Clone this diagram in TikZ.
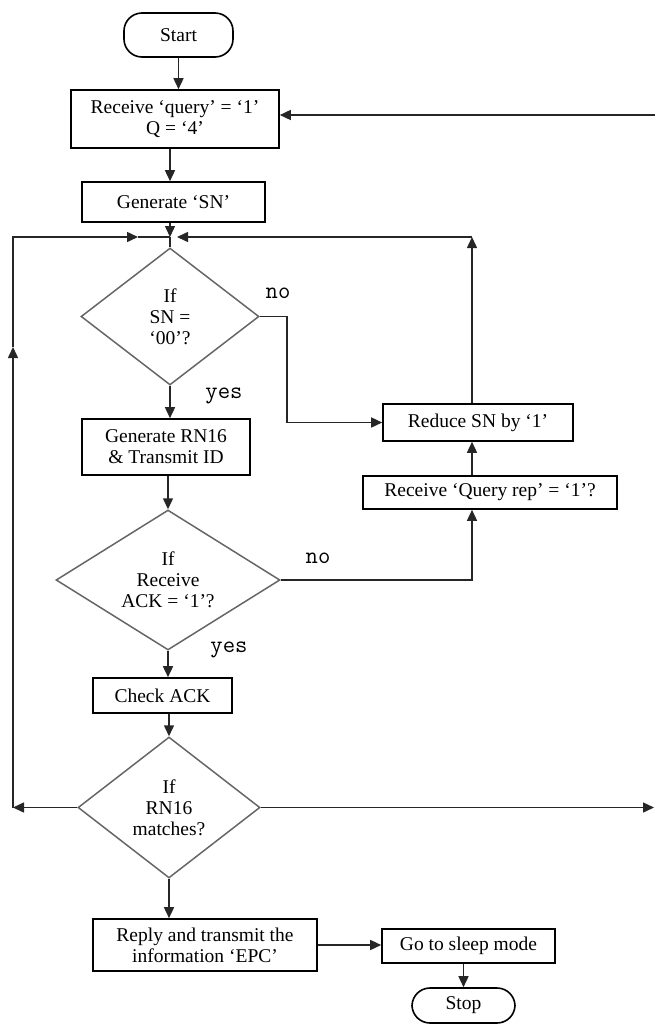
\documentclass[tikz,border=0pt]{standalone}
\usepackage{fontspec}
\setmainfont{Liberation Serif}
\usetikzlibrary{shapes.geometric,arrows.meta}
\tikzset{
  txt/.style={font=\fontsize{19.5}{21}\selectfont},
  box/.style={draw=black, line width=1.6pt, rectangle, inner sep=0pt, align=center, txt},
  term/.style={box, rounded corners=18pt},
  dec/.style={draw=black!60, line width=1.5pt, diamond, inner sep=0pt, align=center, txt},
  ln/.style={draw=black!85, line width=1.5pt},
  arr/.style={ln, -{Triangle[length=11pt,width=10pt]}},
  lbl/.style={font=\ttfamily\fontsize{24}{26}\selectfont, inner sep=0pt},
}
\begin{document}
\begin{tikzpicture}[x=1pt,y=-1pt]
\useasboundingbox (0,0) rectangle (655,1026);
% nodes
\node[term, minimum width=109pt, minimum height=44pt] (start) at (178.5,35) {Start};
\node[box, minimum width=208pt, minimum height=58pt] (rcv) at (175,119) {Receive ‘query’ = ‘1’\\Q = ‘4’};
\node[box, minimum width=183pt, minimum height=40pt] (gsn) at (173.5,202) {Generate ‘SN’};
\node[dec, minimum width=178pt, minimum height=137pt, aspect=1.3] (d1) at (170,316.5) {If\\SN =\\‘00’?};
\node[box, minimum width=168pt, minimum height=56pt] (grn) at (166,447) {Generate RN16\\\& Transmit ID};
\node[box, minimum width=190pt, minimum height=37pt] (red) at (478,422.5) {Reduce SN by ‘1’};
\node[box, minimum width=254pt, minimum height=33pt] (qr) at (490,492.5) {Receive ‘Query rep’ = ‘1’?};
\node[dec, minimum width=224pt, minimum height=140pt, aspect=1.6] (d2) at (168,580) {If\\Receive\\ACK = ‘1’?};
\node[box, minimum width=139pt, minimum height=35pt] (chk) at (162.5,695.5) {Check ACK};
\node[dec, minimum width=182pt, minimum height=141pt, aspect=1.29] (d3) at (169,807.5) {If\\RN16\\matches?};
\node[box, minimum width=224pt, minimum height=52pt] (rep) at (205,945) {Reply and transmit the\\information ‘EPC’};
\node[box, minimum width=173pt, minimum height=34pt] (slp) at (468.5,946) {Go to sleep mode};
\node[term, minimum width=103pt, minimum height=35pt] (stop) at (463.5,1005.5) {Stop};
% helper coordinates
\coordinate (j) at (170,237);
\coordinate (jr) at (177,237);
\coordinate (ql) at (138,237);
\coordinate (lc) at (13,237);
\coordinate (lm) at (13,347);
\coordinate (ll) at (13,807.5);
\coordinate (rtop) at (655,115);
\coordinate (rr) at (654,807.5);
\coordinate (colR) at (472,0);
% connectors
\draw[arr] (start.south) -- (start.south |- rcv.north);
\draw[arr] (rcv.south -| j) -- (gsn.north -| j);
\draw[arr] (gsn.south -| j) -- (j);
\draw[ln] (j) -- (d1.north);
\draw[arr] (rtop) -- (rcv.east |- rtop);
\draw[arr] (d1.east) -- ++(27,0) |- (red.west);
\draw[arr] (d1.south) -- (grn.north -| d1.south);
\draw[arr] (grn.south -| d2.north) -- (d2.north);
\draw[arr] (d2.east) -| (qr.south -| colR);
\draw[arr] (qr.north -| colR) -- (red.south -| colR);
\draw[arr] (red.north -| colR) -- (j -| colR);
\draw[arr] (j -| colR) -- (jr);
\draw[arr] (d2.south) -- (chk.north -| d2.south);
\draw[arr] (chk.south -| d3.north) -- (d3.north);
\draw[arr] (d3.west) -- (ll);
\draw[arr] (ll) -- (lm);
\draw[arr] (lm) -- (lc) -- (ql);
\draw[ln] (ql) -- (j);
\draw[arr] (d3.east) -- (rr);
\draw[arr] (d3.south) -- (rep.north -| d3.south);
\draw[arr] (rep.east) -- (slp.west |- rep.east);
\draw[arr] (slp.south -| stop.north) -- (stop.north);
% labels
\node[lbl] (no1) at (278,293) {no};
\node[lbl] (yes1) at (224,396) {yes};
\node[lbl] (no2) at (318,558) {no};
\node[lbl] (yes2) at (229,650) {yes};
\end{tikzpicture}
\end{document}
